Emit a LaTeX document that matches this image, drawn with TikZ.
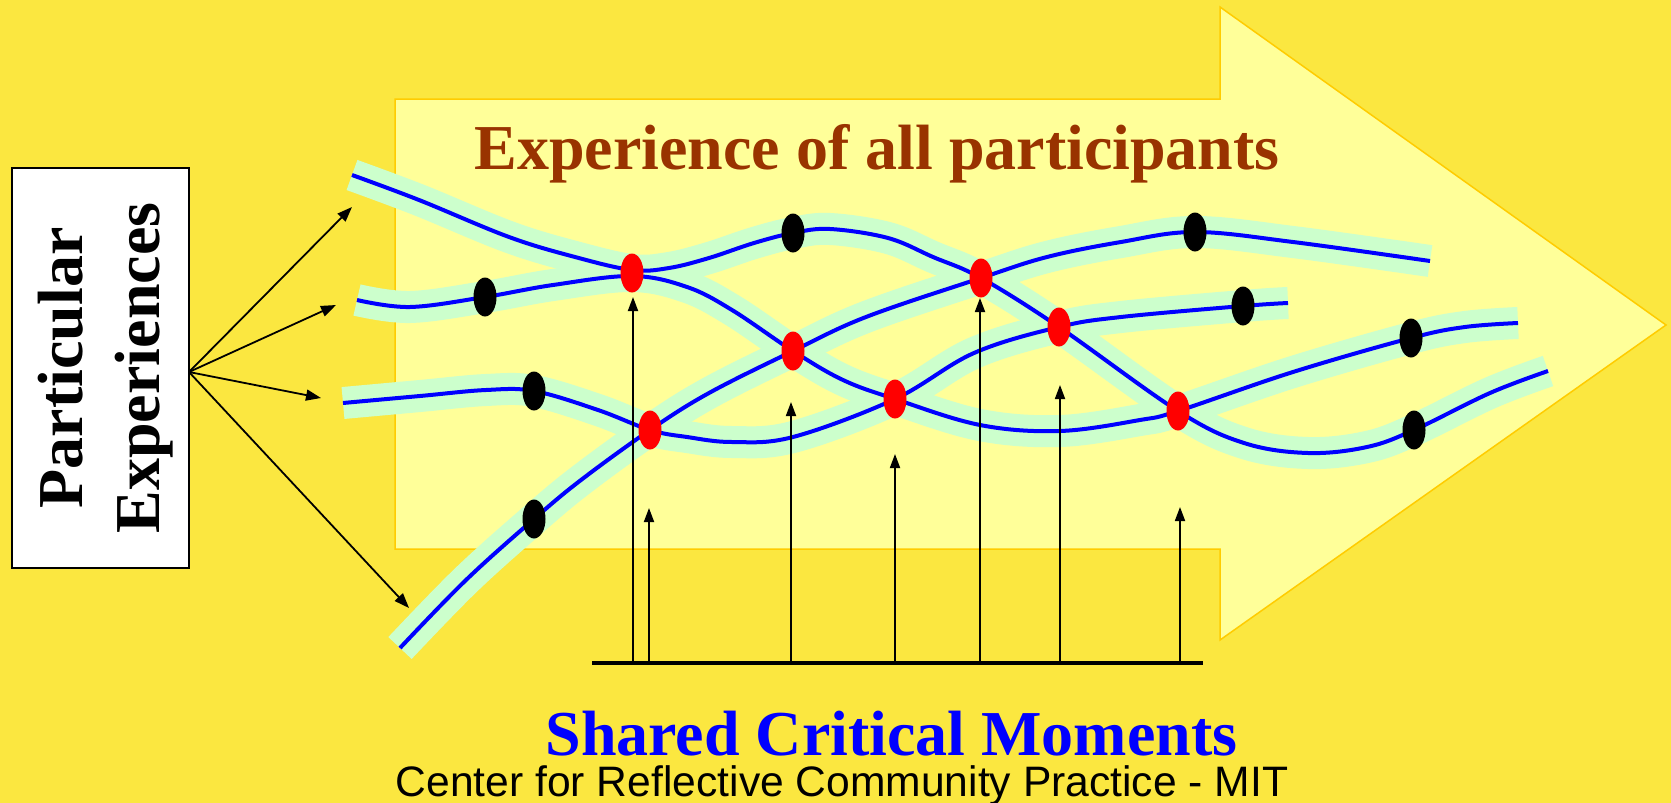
\documentclass[tikz,border=0pt]{standalone}
\usepackage{fontspec}
\setmainfont{Liberation Serif}
\newfontfamily\arialfont{Liberation Sans}
\usetikzlibrary{arrows.meta,shapes.geometric}
\definecolor{bgyellow}{RGB}{251,231,64}
\definecolor{arrowfill}{RGB}{255,255,153}
\definecolor{arrowedge}{RGB}{255,204,0}
\definecolor{bandgreen}{RGB}{204,255,204}
\definecolor{strandblue}{RGB}{0,0,255}
\definecolor{titlebrown}{RGB}{153,51,0}
\newcommand\bigfont{\fontsize{64}{77}\selectfont\bfseries}
\begin{document}
\begin{tikzpicture}[x=1pt,y=-1pt,
  band/.style={line width=32pt, draw=bandgreen, line cap=butt},
  thread/.style={line width=4pt, draw=strandblue, line cap=butt},
  crit/.style={ellipse, fill=red, minimum width=23pt, minimum height=39pt, inner sep=0pt},
  particular/.style={ellipse, fill=black, minimum width=23pt, minimum height=39pt, inner sep=0pt},
  fanarrow/.style={line width=1.8pt, -{Triangle[length=15pt,width=11pt]}},
  momentarrow/.style={line width=1.8pt, -{Triangle[length=14pt,width=10pt]}},
  bigarrow/.style={draw=arrowedge, fill=arrowfill, line width=1.5pt, line join=miter}
]
% background and bounding box
\fill[bgyellow] (0,0) rectangle (1671,803);
\useasboundingbox (0,0) rectangle (1671,803);

% big arrow
\draw[bigarrow] (395,99) -- (1220,99) -- (1220,7) -- (1666,325) -- (1220,640) -- (1220,549) -- (395,549) -- cycle;

% title
\node[inner sep=0pt, anchor=base, text=titlebrown, font=\bigfont] (title) at (877,169) {Experience of all participants};

% crossing and dot positions
\coordinate (R1) at (632,273);
\coordinate (R2) at (650,430);
\coordinate (R3) at (793,351);
\coordinate (R4) at (895,399);
\coordinate (R5) at (981,278);
\coordinate (R6) at (1059,327);
\coordinate (R7) at (1178,411);
\coordinate (B1) at (485,297);
\coordinate (B2) at (534,391);
\coordinate (B3) at (534,519);
\coordinate (B4) at (793,233);
\coordinate (B5) at (1195,232);
\coordinate (B6) at (1243,306);
\coordinate (B7) at (1411,338);
\coordinate (B8) at (1414,430);
\coordinate (SA) at (352,175);
\coordinate (SB) at (357,300);
\coordinate (SC) at (343,403);
\coordinate (SD) at (400,648);

% strands
\path[save path=\strandA] plot[smooth, tension=0.6] coordinates {(SA) (419,200) (509,237) (575,257) (632,270) (669,268) (709,258) (754,243) (B4) (830,229) (888,238) (933,257) (R5) (R6) (R7) (1244,443) (1308,453) (1367,447) (B8) (1490,393) (1548,371)};
\path[save path=\strandB] plot[smooth, tension=0.6] coordinates {(SB) (410,307) (B1) (553,285) (632,276) (687,287) (732,310) (R3) (843,380) (R4) (980,425) (1060,431) (1140,420) (R7) (1293,372) (B7) (1465,327) (1518,323)};
\path[save path=\strandC] plot[smooth, tension=0.6] coordinates {(SC) (420,396) (486,390) (B2) (598,410) (R2) (687,437) (732,442) (793,437) (R4) (974,353) (R6) (1121,317) (B6) (1288,303)};
\path[save path=\strandD] plot[smooth, tension=0.6] coordinates {(SD) (466,580) (B3) (581,480) (R2) (709,393) (R3) (866,317) (R5) (1047,257) (1121,242) (B5) (1293,242) (1430,261)};

\draw[band, use path=\strandA];
\draw[band, use path=\strandB];
\draw[band, use path=\strandC];
\draw[band, use path=\strandD];
\draw[thread, use path=\strandA];
\draw[thread, use path=\strandB];
\draw[thread, use path=\strandC];
\draw[thread, use path=\strandD];

% dots
\foreach \p in {B1,B2,B3,B4,B5,B6,B7,B8} \node[particular] (dot\p) at (\p) {};
\foreach \p in {R1,R2,R3,R4,R5,R6,R7} \node[crit] (dot\p) at (\p) {};

% particular experiences box
\node[draw, fill=white, line width=2pt, minimum width=177pt, minimum height=400pt, inner sep=0pt] (pbox) at (100.5,368) {};
\node[rotate=90, anchor=base, inner sep=0pt, font=\bigfont] (pt1) at (82,368) {Particular};
\node[rotate=90, anchor=base, inner sep=0pt, font=\bigfont] (pt2) at (159,368) {Experiences};

\coordinate (fan) at (189,372);
\coordinate (T1) at (352,207);
\coordinate (T2) at (336,305);
\coordinate (T3) at (321,398);
\coordinate (T4) at (409,608);
\draw[fanarrow] (fan) -- (T1);
\draw[fanarrow] (fan) -- (T2);
\draw[fanarrow] (fan) -- (T3);
\draw[fanarrow] (fan) -- (T4);

% shared critical moments base and arrows
\coordinate (baseL) at (592,663);
\coordinate (baseR) at (1203,663);
\draw[line width=4.5pt] (baseL) -- (baseR);
\foreach \x/\t [count=\i] in {633/297, 649/508, 791/402, 895/454, 980/298, 1060/385, 1180/507} {
  \coordinate (mb\i) at (\x,663);
  \coordinate (mt\i) at (\x,\t);
  \draw[momentarrow] (mb\i) -- (mt\i);
}

\node[inner sep=0pt, anchor=base, text=strandblue, font=\bigfont] (shared) at (891.5,755) {Shared Critical Moments};
\node[inner sep=0pt, anchor=base, font=\arialfont\fontsize{42.6}{50}\selectfont] (credit) at (842,796) {Center for Reflective Community Practice - MIT};
\end{tikzpicture}
\end{document}
